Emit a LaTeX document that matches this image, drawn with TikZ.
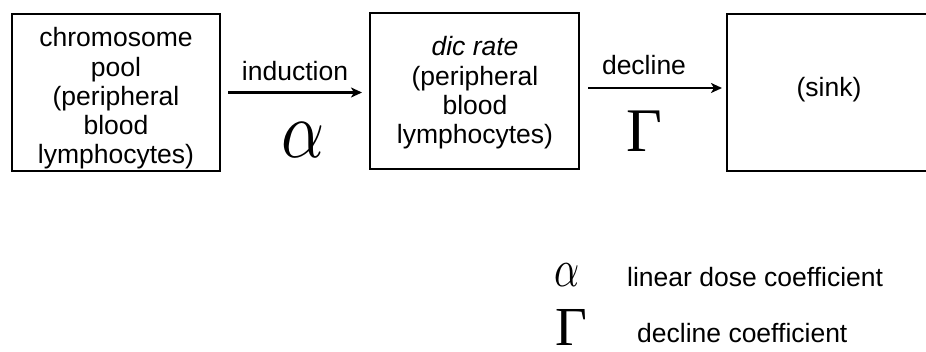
\documentclass[tikz,border=0pt]{standalone}
\usepackage{fontspec}
\setmainfont{Liberation Sans}
\newfontfamily\greekfont{Liberation Serif}
\usetikzlibrary{arrows.meta,calc}

\tikzset{
  box/.style={draw, line width=2pt, inner sep=0pt},
  boxtext/.style={align=center, inner sep=0pt,
    font=\fontsize{26.5}{29.3}\selectfont},
  lbl/.style={inner sep=0pt, font=\fontsize{26.5}{29.3}\selectfont},
  arr/.style={line width=2.2pt,
    -{Stealth[length=11pt,width=10pt,inset=3pt]}},
  sym/.style={inner sep=0pt},
}
% italic alpha, stretched to size
\newcommand{\alphasym}[2]{\scalebox{#1}[#2]{$\alpha$}}

\begin{document}
\begin{tikzpicture}[x=1pt,y=-1pt]
  \useasboundingbox[fill=white] (0,0) rectangle (926,352);

  % compartments (the sink runs past the right margin)
  \node[box, minimum width=208pt, minimum height=157pt] (b1) at (116,92.5) {};
  \node[box, minimum width=209pt, minimum height=156pt] (b2) at (474.5,91) {};
  \node[box, minimum width=209pt, minimum height=157pt] (b3) at (831.5,92.5) {};

  \node[boxtext] (t1) at (116,98.5)
    {chromosome\\pool\\(peripheral\\blood\\lymphocytes)};
  \node[boxtext] (t2) at (475,93)
    {\textit{dic rate}\\(peripheral\\blood\\lymphocytes)};
  \node[boxtext] (t3) at (829,90) {(sink)};

  % transitions between compartments
  \draw[arr] ([xshift=7pt]b1.east) coordinate (s1) -- ([xshift=-7pt]s1 -| b2.west);
  \draw[arr] ([xshift=8pt,yshift=3pt]b2.east) coordinate (s2) -- ([xshift=-4pt]s2 -| b3.west);

  \node[lbl, anchor=base] (ind) at (295,81) {induction};
  \node[lbl, anchor=base] (dec) at (644,75) {decline};

  \node[sym] (alpha) at (303,140) {\alphasym{6.7}{8.1}};
  \node[sym] (gamma) at (644,131) {\fontsize{62}{62}\selectfont\greekfont Γ};

  % legend
  \node[sym] (la) at (567,275) {\alphasym{3.9}{5.3}};
  \node[sym] (lg) at (571,327) {\fontsize{55}{55}\selectfont\greekfont Γ};
  \node[lbl, anchor=base west] (lat) at (627,287) {linear dose coefficient};
  \node[lbl, anchor=base west] (lgt) at (637,343) {decline coefficient};
\end{tikzpicture}
\end{document}
